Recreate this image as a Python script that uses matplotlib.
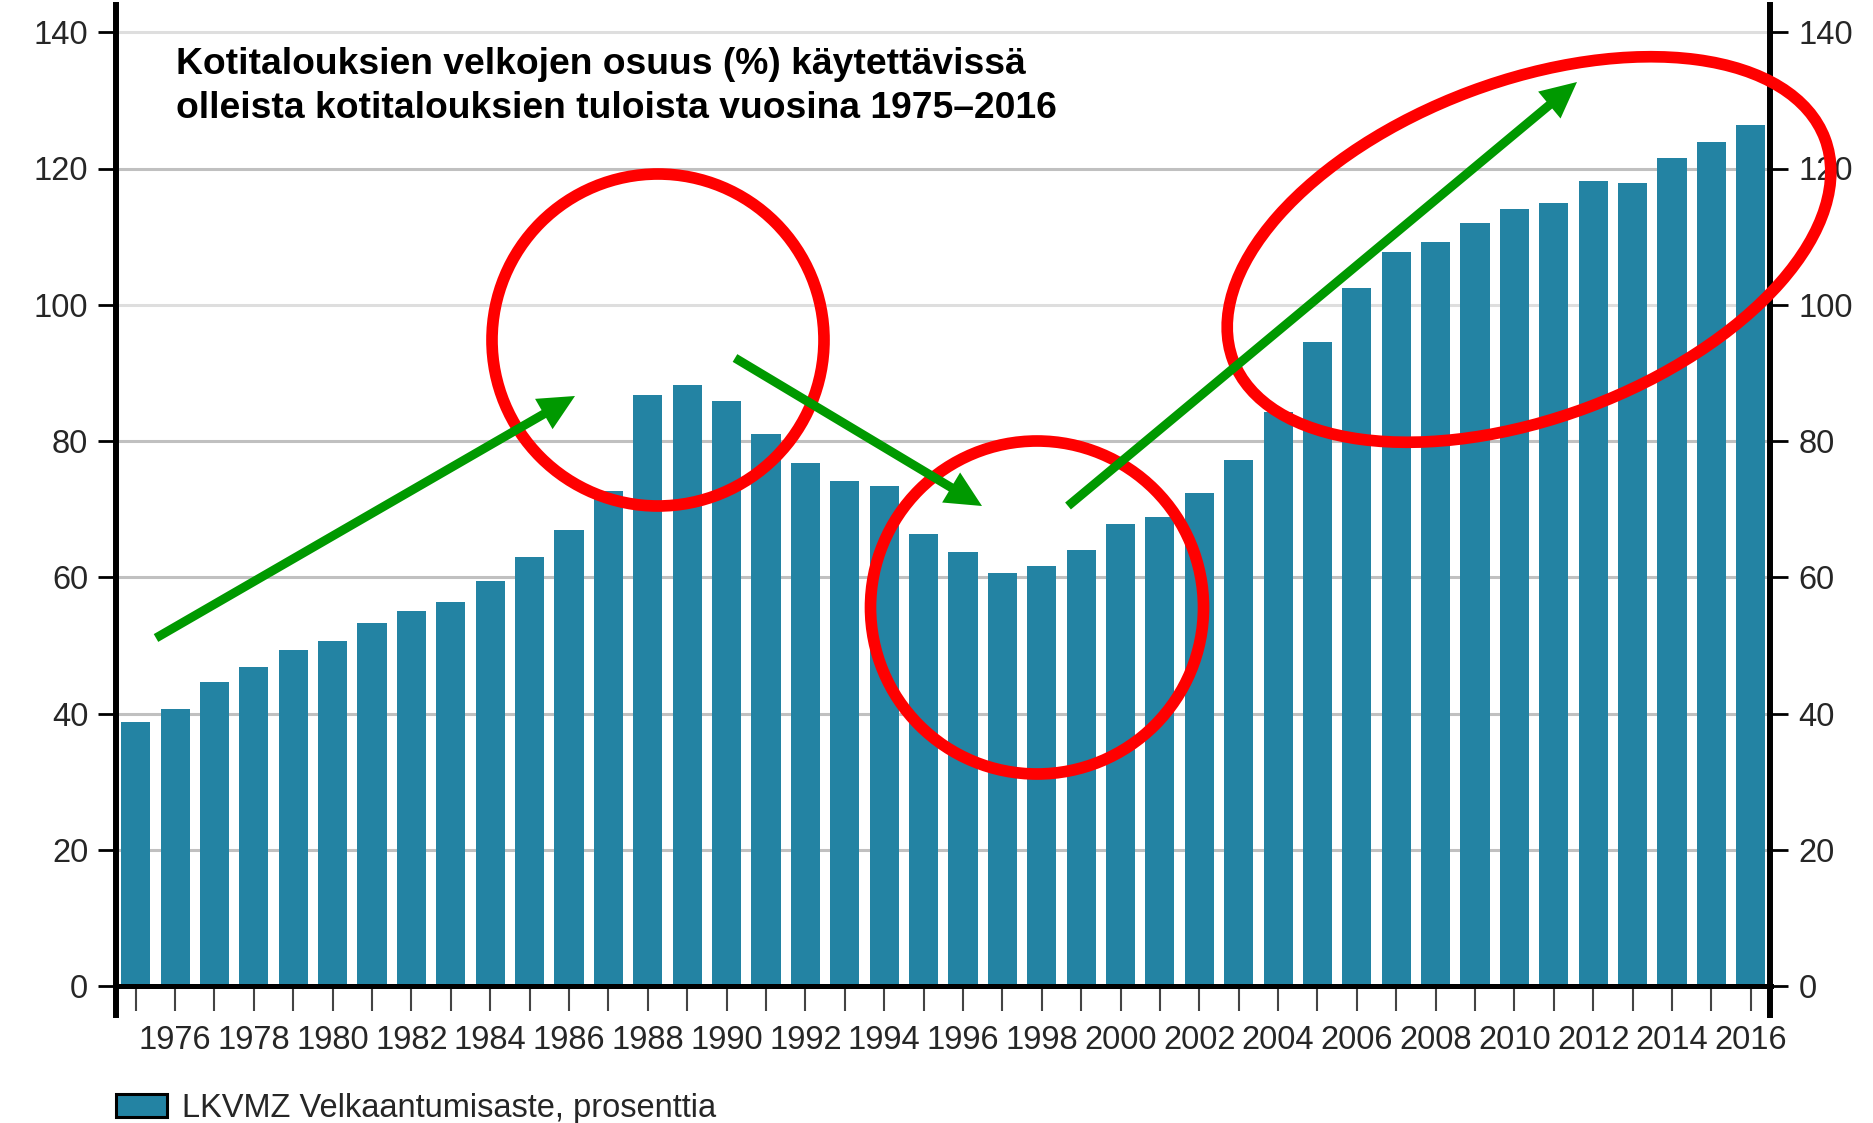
import numpy as np
import matplotlib
matplotlib.use("Agg")
import matplotlib.pyplot as plt
from matplotlib.patches import Ellipse, FancyArrow, Patch

plt.rcParams["font.family"] = ["Liberation Sans", "DejaVu Sans"]

# velkaantumisaste 1975-2016, % käytettävissä olevista tuloista
years = list(range(1975, 2017))
velkaantumisaste = [38.8, 40.7, 44.6, 46.8, 49.3, 50.7, 53.3, 55.0, 56.4, 59.5,
                    63.0, 66.9, 72.6, 86.8, 88.2, 85.8, 81.0, 76.8, 74.2, 73.4,
                    66.3, 63.7, 60.6, 61.6, 64.0, 67.8, 68.8, 72.3, 77.2, 84.3,
                    94.5, 102.5, 107.7, 109.2, 112.0, 114.0, 114.9, 118.2, 117.8, 121.6,
                    123.9, 126.4]
y_ticks = [0, 20, 40, 60, 80, 100, 120, 140]
legend_label = "LKVMZ Velkaantumisaste, prosenttia"
title_lines = ["Kotitalouksien velkojen osuus (%) käytettävissä",
               "olleista kotitalouksien tuloista vuosina 1975\u20132016"]

bar_color = "#2383a3"
green = "#009900"
red = "#ff0000"
text_color = "#262626"

W, H = 1874, 1123
fig = plt.figure(figsize=(W / 100, H / 100), dpi=100)
ax = fig.add_axes([116 / W, 1 - 986 / H, (1770.5 - 116) / W, (986 - 5) / H])

x = np.arange(len(years))
ax.bar(x, velkaantumisaste, width=0.74, color=bar_color, zorder=2)
ax.set_xlim(-0.5, len(years) - 0.5)
ax.set_ylim(0, 144)

# y-akseli molemmille puolille
ax.set_yticks(y_ticks)
ax.set_yticklabels([str(v) for v in y_ticks])
ax.tick_params(axis="y", which="both", left=True, right=True, labelleft=True, labelright=True,
               direction="out", length=13, width=2, color="black", pad=7,
               labelsize=23.5, labelcolor=text_color)
ax.yaxis.grid(True, color="#c0c0c0", linewidth=2.2)
ax.set_axisbelow(True)
for line, v in zip(ax.yaxis.get_gridlines(), y_ticks):
    if v in (100, 140):
        line.set_color("#dedede")

# vuodet: tikki joka vuodelle, nimi parillisille
ax.set_xticks(x)
ax.set_xticklabels([str(y) if y % 2 == 0 else "" for y in years])
ax.tick_params(axis="x", direction="out", length=18, width=1.5, color="#444444", pad=10,
               labelsize=23.5, labelcolor=text_color)

ax.spines["top"].set_visible(False)
for side in ("left", "right"):
    ax.spines[side].set_linewidth(4.3)
    ax.spines[side].set_color("black")
    ax.spines[side].set_bounds(-29 / 6.81, 144)
ax.spines["bottom"].set_linewidth(3.6)
ax.spines["bottom"].set_color("black")

# otsikko
fig.text(176 / W, 1 - 73.5 / H, title_lines[0], fontsize=26.8, fontweight="bold",
         va="baseline", ha="left", color="black")
fig.text(176 / W, 1 - 118.5 / H, title_lines[1], fontsize=26.8, fontweight="bold",
         va="baseline", ha="left", color="black")

# selite
handle = Patch(facecolor=bar_color, edgecolor="black", linewidth=2.2)
fig.legend(handles=[handle], labels=[legend_label], loc="lower left",
           bbox_to_anchor=(116 / W, -1 / H), frameon=False, fontsize=23.5,
           handlelength=1.56, handleheight=0.7, handletextpad=0.46,
           borderpad=0, borderaxespad=0, labelcolor=text_color)

# merkinnät: ympyrät ja nuolet kuvan pikseleissä
over = fig.add_axes([0, 0, 1, 1], zorder=5)
over.set_xlim(0, W)
over.set_ylim(H, 0)
over.axis("off")
over.patch.set_alpha(0)

circles = [
    ((658, 340), 332, 332, 0),
    ((1037, 607.5), 333, 333, 0),
    ((1529, 249.5), 632, 337, -20.5),
]
for center, w, h, ang in circles:
    over.add_patch(Ellipse(center, w, h, angle=ang, fill=False, edgecolor=red, linewidth=8.4))

arrows = [
    ((156, 638), (575, 396)),
    ((735, 358), (982, 506)),
    ((1068, 506), (1577, 82)),
]
for (x0, y0), (x1, y1) in arrows:
    over.add_patch(FancyArrow(x0, y0, x1 - x0, y1 - y0, width=9, head_width=35,
                              head_length=36, length_includes_head=True,
                              color=green, linewidth=0))

fig.savefig("out.png", dpi=100)
